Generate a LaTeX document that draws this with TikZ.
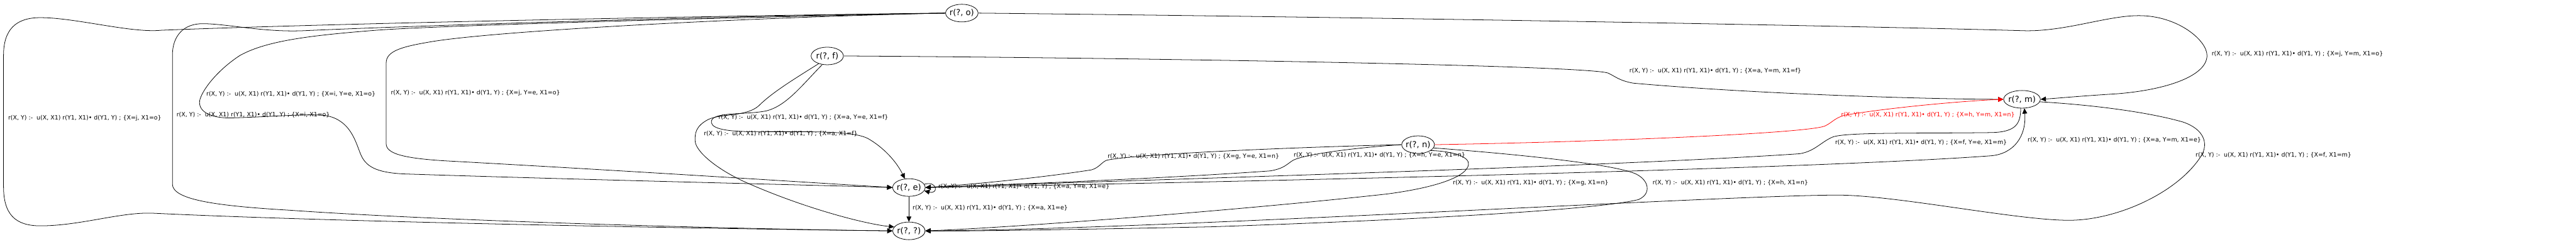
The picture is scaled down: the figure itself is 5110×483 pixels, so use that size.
\documentclass[tikz,border=0pt]{standalone}
\usepackage{fontspec}
\setmainfont{DejaVu Sans}
\usepackage{tikz}
\usetikzlibrary{shapes.geometric,arrows.meta}

\newcommand{\rclause}[1]{r(X, Y) :-\ \ u(X, X1) r(Y1, X1)• d(Y1, Y) ; \{#1\}}

\tikzset{
  goal/.style={draw, ellipse, line width=0.55pt, inner xsep=-0.3mm, inner ysep=1mm,
    minimum width=12.8mm, minimum height=7mm, font=\fontsize{9.3}{11}\selectfont},
  rule/.style={anchor=west, inner sep=0pt, font=\fontsize{6.7}{8}\selectfont},
  edge/.style={-{Triangle[length=2.1mm,width=1.9mm]}, line width=0.55pt}
}

\begin{document}
\begin{tikzpicture}[x=0.2mm, y=-0.2mm]
\useasboundingbox (0,0) rectangle (5110,483);

\node[goal] (o) at (1908,26) {r(?, o)};
\node[goal] (f) at (1641,111) {r(?, f)};
\node[goal] (n) at (2813,287) {r(?, n)};
\node[goal] (m) at (4011,197) {r(?, m)};
\node[goal] (e) at (1803,372) {r(?, e)};
\node[goal] (q) at (1803,458) {r(?, ?)};

\foreach \x/\y/\t in {16/235/{X=j, X1=o}, 350/228/{X=i, X1=o}, 409/187/{X=i, Y=e, X1=o},
    775/184/{X=j, Y=e, X1=o}, 1425/233/{X=a, Y=e, X1=f}, 1396/265/{X=a, X1=f},
    1861/370/{X=a, Y=e, X1=e}, 1810/412/{X=a, X1=e}, 2197/310/{X=g, Y=e, X1=n},
    2566/308/{X=h, Y=e, X1=n}, 2882/363/{X=g, X1=n}, 3232/140/{X=a, Y=m, X1=f},
    3640/283/{X=f, Y=e, X1=m}, 3278/363/{X=h, X1=n}, 4022/278/{X=a, Y=m, X1=e},
    4387/107/{X=j, Y=m, X1=o}, 4355/308/{X=f, X1=m}}
  \node[rule] (lab\x) at (\x,\y) {\rclause{\t}};
\node[rule, red] (labred) at (3652,228) {\rclause{X=h, Y=m, X1=n}};

\draw[edge] (o.west) .. controls (1500,30) and (700,45) .. (320,60) .. controls (260,66) and (150,35) .. (80,35)
  .. controls (30,35) and (7,60) .. (7,110) -- (7,370) .. controls (7,425) and (30,448) .. (80,448)
  .. controls (160,448) and (240,420) .. (304,423) .. controls (700,442) and (1500,455) .. (q.west);
\draw[edge] (o.west) .. controls (1400,32) and (800,52) .. (600,61) .. controls (520,64) and (450,47) .. (402,47)
  .. controls (365,47) and (342,70) .. (342,110) -- (342,365) .. controls (342,395) and (420,408) .. (574,417)
  .. controls (900,440) and (1500,455) .. (q.west);
\draw[edge] (o.west) .. controls (1300,38) and (850,52) .. (746,60) .. controls (620,70) and (530,80) .. (476,110)
  .. controls (430,140) and (400,180) .. (396,200) .. controls (393,225) and (425,234) .. (455,234)
  .. controls (540,232) and (620,224) .. (650,230) .. controls (695,240) and (705,280) .. (715,305)
  .. controls (725,330) and (745,342) .. (800,345) .. controls (1200,358) and (1650,368) .. (e.west);
\draw[edge] (o.west) .. controls (1500,34) and (1000,60) .. (860,82) .. controls (800,92) and (766,100) .. (766,125)
  -- (766,285) .. controls (766,305) and (800,315) .. (900,320) .. controls (1300,342) and (1650,365) .. (e.west);
\draw[edge] (o.east) .. controls (2800,35) and (3700,52) .. (4018,61) .. controls (4100,62) and (4180,31) .. (4243,31)
  .. controls (4320,31) and (4378,80) .. (4378,110) .. controls (4378,150) and (4300,178) .. (4200,186)
  .. controls (4120,191) and (4080,195) .. (m.east);

\draw[edge] (f.east) .. controls (2300,115) and (3150,130) .. (3190,145) .. controls (3205,152) and (3212,160) .. (3240,165)
  .. controls (3500,188) and (3850,197) .. (m.west);
\draw[edge] (f.240) .. controls (1590,170) and (1560,210) .. (1520,220) .. controls (1480,228) and (1420,222) .. (1412,238)
  .. controls (1405,255) and (1440,260) .. (1480,261) .. controls (1600,262) and (1690,258) .. (1722,275)
  .. controls (1752,292) and (1778,320) .. (e.115);
\draw[edge] (f.222) .. controls (1570,160) and (1530,185) .. (1505,210) .. controls (1480,232) and (1430,225) .. (1405,237)
  .. controls (1380,250) and (1378,265) .. (1379,280) .. controls (1380,300) and (1420,335) .. (1480,362)
  .. controls (1600,415) and (1720,445) .. (q.165);

\draw[edge] (e.12) .. controls (1860,358) and (1862,386) .. (e.-12);
\draw[edge] (e.south) -- (q.north);
\draw[edge] (e.east) .. controls (2500,360) and (3600,335) .. (3950,309) .. controls (3995,305) and (4020,270) .. (m.285);

\draw[edge] (m.262) .. controls (4008,245) and (4000,262) .. (3950,263) .. controls (3800,265) and (3660,262) .. (3635,272)
  .. controls (3612,282) and (3600,300) .. (3570,305) .. controls (3200,330) and (2300,356) .. (e.east);
\draw[edge] (m.-8) .. controls (4150,208) and (4260,222) .. (4330,242) .. controls (4372,256) and (4382,285) .. (4366,310)
  .. controls (4320,382) and (4200,437) .. (4104,437) .. controls (4000,437) and (3760,387) .. (3644,387)
  .. controls (3400,388) and (2300,455) .. (q.east);

\draw[edge, red] (n.east) .. controls (3200,281) and (3585,264) .. (3620,250) .. controls (3635,243) and (3640,233) .. (3662,228)
  .. controls (3760,212) and (3900,200) .. (m.west);
\draw[edge] (n.west) .. controls (2600,291) and (2250,305) .. (2195,318) .. controls (2185,322) and (2180,333) .. (2165,337)
  .. controls (2050,355) and (1900,368) .. (e.east);
\draw[edge] (n.west) .. controls (2700,292) and (2590,305) .. (2565,318) .. controls (2552,326) and (2548,334) .. (2520,339)
  .. controls (2300,355) and (1950,368) .. (e.east);
\draw[edge] (n.-25) .. controls (2885,300) and (2915,312) .. (2913,326) .. controls (2911,350) and (2850,372) .. (2750,385)
  .. controls (2450,418) and (2000,452) .. (q.east);
\draw[edge] (n.-12) .. controls (3000,305) and (3200,325) .. (3245,345) .. controls (3272,358) and (3276,385) .. (3250,396)
  .. controls (3150,420) and (2700,440) .. (2400,450) .. controls (2100,456) and (1900,459) .. (q.east);
\end{tikzpicture}
\end{document}
